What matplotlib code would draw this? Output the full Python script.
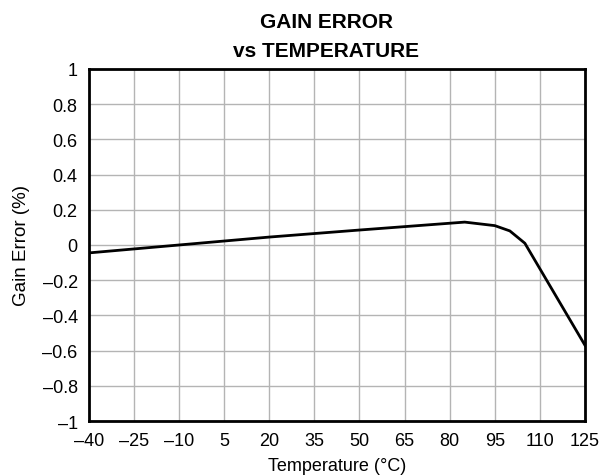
import matplotlib
matplotlib.use('Agg')
from matplotlib import pyplot as plt
import numpy as np

plt.rcParams['font.family'] = ['Liberation Sans', 'DejaVu Sans']

# temperature (C) and gain error (%)
temp = [-40, -10, 20, 50, 85, 95, 100, 105, 125]
gain_err = [-0.045, 0.0, 0.045, 0.085, 0.13, 0.11, 0.08, 0.01, -0.57]

xticks = np.arange(-40, 126, 15)
yticks = np.arange(-1.0, 1.01, 0.2)

fig = plt.figure(figsize=(6.0, 4.77), dpi=100)
ax = fig.add_axes([0.148, 0.1153, 0.827, 0.738])

ax.plot(temp, gain_err, color='k', lw=2.0, zorder=3)

ax.set_xlim(-40, 125)
ax.set_ylim(-1, 1)
ax.set_xticks(xticks)
ax.set_yticks(yticks)
ax.set_xticklabels([str(t).replace('-', '\u2013') for t in xticks])
ylabs = []
for v in yticks:
    v = round(v, 1)
    if v == 0:
        ylabs.append('0')
    elif v == int(v):
        ylabs.append(str(int(v)).replace('-', '\u2013'))
    else:
        ylabs.append(('%g' % v).replace('-', '\u2013'))
ax.set_yticklabels(ylabs)
ax.tick_params(axis='x', length=0, labelsize=13, pad=8)
ax.tick_params(axis='y', length=0, labelsize=13, pad=8)
ax.grid(True, color='#b4b4b4', lw=1.0)
for s in ax.spines.values():
    s.set_linewidth(2.0)

ax.set_xlabel('Temperature (\u00b0C)', fontsize=13, labelpad=6)
ax.set_ylabel('Gain Error (%)', fontsize=13.5, labelpad=9)
fig.text(326 / 600, 1 - 28.5 / 477, 'GAIN ERROR', ha='center', va='baseline',
         fontsize=15, fontweight='bold')
fig.text(326 / 600, 1 - 56.7 / 477, 'vs TEMPERATURE', ha='center', va='baseline',
         fontsize=15, fontweight='bold')

fig.savefig('out.png', dpi=100)
